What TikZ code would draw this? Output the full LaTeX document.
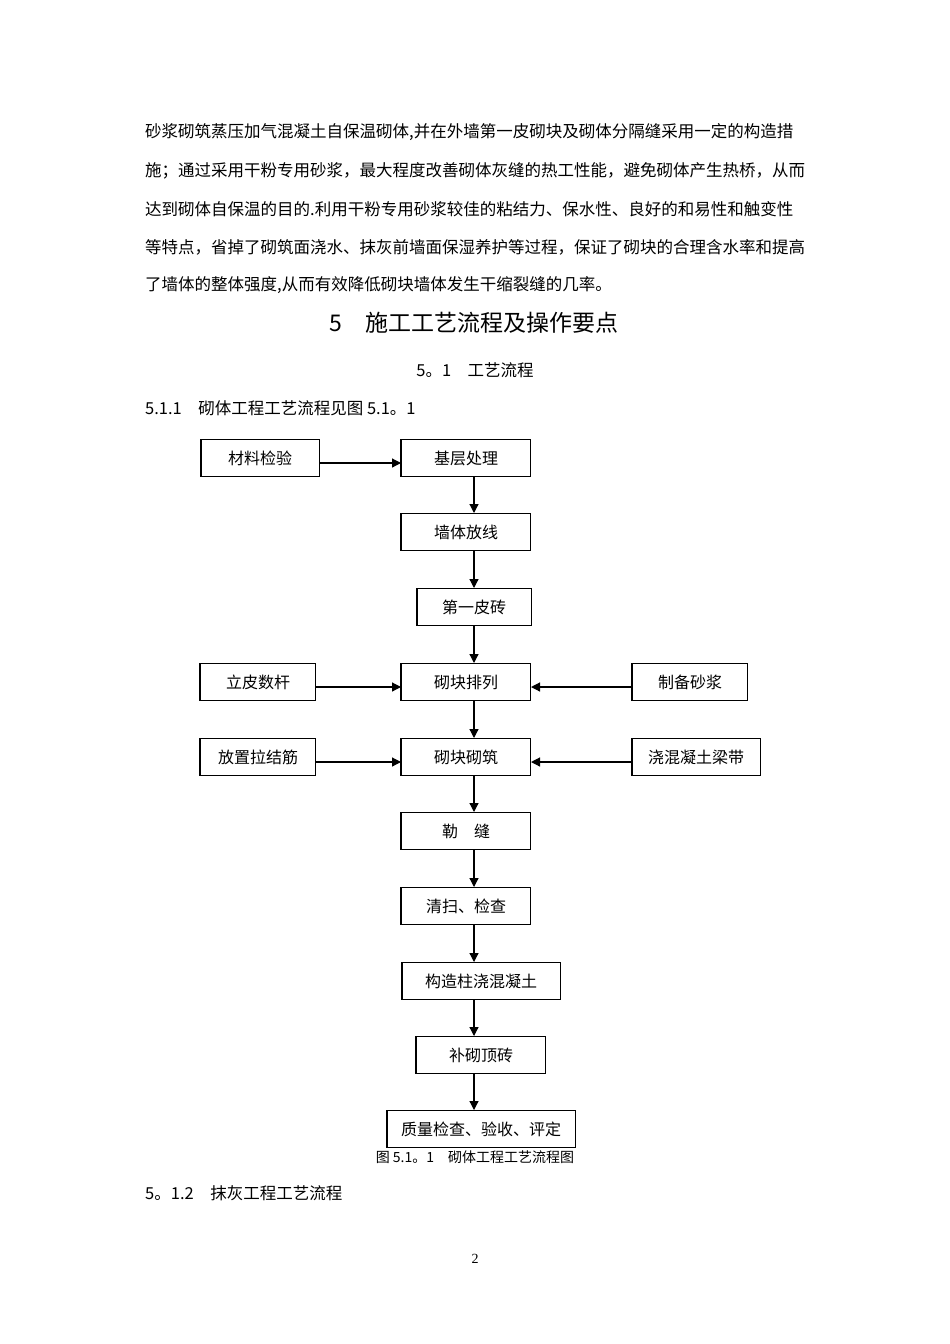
\documentclass[tikz,border=0pt]{standalone}
\usepackage{fontspec}
\setmainfont{Noto Sans CJK SC}
\newfontfamily\pagenumfont{Liberation Serif}
\usetikzlibrary{arrows.meta}
\XeTeXlinebreaklocale "zh"
\XeTeXlinebreakskip=0pt plus 2pt

\tikzset{
  box/.style={draw, line width=1pt, minimum height=37pt, inner sep=0pt,
    font=\fontsize{16}{18}\selectfont},
  flow/.style={-{Triangle[length=9pt,width=9pt]}, line width=1.2pt},
  para/.style={anchor=west, inner sep=0pt, font=\fontsize{16.5}{18}\selectfont},
}

\begin{document}
\begin{tikzpicture}[x=1pt,y=-1pt]
    \useasboundingbox (0,0) rectangle (950,1344);

    % paragraph
    \node[para] (line1) at (145,132) {\makebox[660pt][s]{砂浆砌筑蒸压加气混凝土自保温砌体,并在外墙第一皮砌块及砌体分隔缝采用一定的构造措}};
    \node[para] (line2) at (145,171) {\makebox[660pt][s]{施；通过采用干粉专用砂浆，最大程度改善砌体灰缝的热工性能，避免砌体产生热桥，从而}};
    \node[para] (line3) at (145,209) {\makebox[660pt][s]{达到砌体自保温的目的.利用干粉专用砂浆较佳的粘结力、保水性、良好的和易性和触变性}};
    \node[para] (line4) at (145,247) {\makebox[660pt][s]{等特点，省掉了砌筑面浇水、抹灰前墙面保湿养护等过程，保证了砌块的合理含水率和提高}};
    \node[para] (line5) at (145,285) {了墙体的整体强度,从而有效降低砌块墙体发生干缩裂缝的几率。};

    % headings
    \node[font=\fontsize{23}{26}\selectfont] (chapter) at (474,323) {5\quad 施工工艺流程及操作要点};
    \node[font=\fontsize{16.5}{18}\selectfont] (section) at (475,370) {5。1\quad 工艺流程};
    \node[para] (sub1) at (145,408) {5.1.1\quad 砌体工程工艺流程见图 5.1。1};

    % flow chart
    \coordinate (spine) at (474,458);
    \node[box, minimum width=118pt] (cailiao) at (260,458) {材料检验};
    \node[box, minimum width=129pt] (jiceng) at (466,458) {基层处理};
    \node[box, minimum width=129pt] (qiangti) at (466,532) {墙体放线};
    \node[box, minimum width=114pt] (diyipi) at (474,607) {第一皮砖};
    \node[box, minimum width=115pt] (lipi) at (258,682) {立皮数杆};
    \node[box, minimum width=129pt] (pailie) at (466,682) {砌块排列};
    \node[box, minimum width=115pt] (shajiang) at (690,682) {制备砂浆};
    \node[box, minimum width=115pt] (lajie) at (258,757) {放置拉结筋};
    \node[box, minimum width=129pt] (qizhu) at (466,757) {砌块砌筑};
    \node[box, minimum width=128pt] (liangdai) at (696,757) {浇混凝土梁带};
    \node[box, minimum width=129pt] (lefeng) at (466,831) {勒\quad 缝};
    \node[box, minimum width=129pt] (qingsao) at (466,906) {清扫、检查};
    \node[box, minimum width=158pt] (gouzao) at (481,981) {构造柱浇混凝土};
    \node[box, minimum width=129pt] (buqi) at (481,1055) {补砌顶砖};
    \node[box, minimum width=188pt] (zhiliang) at (481,1129) {质量检查、验收、评定};
    \node[font=\fontsize{14}{16}\selectfont] (caption) at (475,1157) {图 5.1。1\quad 砌体工程工艺流程图};

    % heavier left edges
    \foreach \n in {cailiao, jiceng, qiangti, diyipi, lipi, pailie, shajiang, lajie,
        qizhu, liangdai, lefeng, qingsao, gouzao, buqi, zhiliang}
        \draw[line width=2pt] (\n.north west) -- (\n.south west);

    \foreach \a/\b in {jiceng/qiangti, qiangti/diyipi, diyipi/pailie, pailie/qizhu,
        qizhu/lefeng, lefeng/qingsao, qingsao/gouzao, gouzao/buqi, buqi/zhiliang}
        \draw[flow] (\a.south -| spine) -- (\b.north -| spine);

    \draw[flow] ([yshift=-5pt]cailiao.east) -- ([yshift=-5pt]jiceng.west);
    \draw[flow] ([yshift=-5pt]lipi.east) -- ([yshift=-5pt]pailie.west);
    \draw[flow] ([yshift=-5pt]shajiang.west) -- ([yshift=-5pt]pailie.east);
    \draw[flow] ([yshift=-5pt]lajie.east) -- ([yshift=-5pt]qizhu.west);
    \draw[flow] ([yshift=-5pt]liangdai.west) -- ([yshift=-5pt]qizhu.east);

    % next section
    \node[para] (sub2) at (145,1193) {5。1.2\quad 抹灰工程工艺流程};
    \node[font=\pagenumfont\fontsize{14}{16}\selectfont] (pagenum) at (475,1259) {2};
\end{tikzpicture}
\end{document}
